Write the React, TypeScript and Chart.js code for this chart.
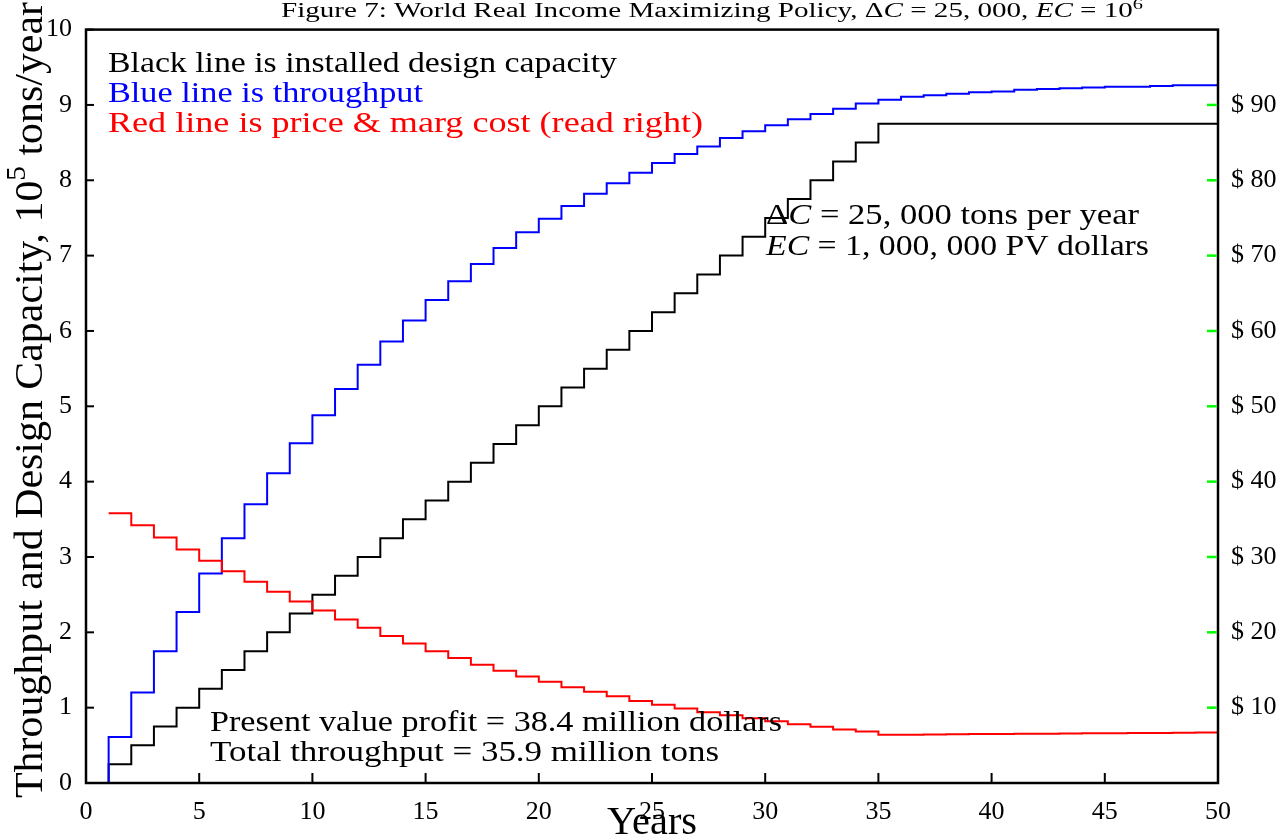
import React, { useEffect, useRef } from "react";
import { Chart, registerables } from "chart.js";

Chart.register(...registerables);

// ---------- data ----------
const years = [
  0, 1, 2, 3, 4, 5, 6, 7, 8, 9, 10, 11, 12, 13, 14, 15, 16, 17, 18, 19, 20,
  21, 22, 23, 24, 25, 26, 27, 28, 29, 30, 31, 32, 33, 34, 35, 36, 37, 38, 39, 40,
  41, 42, 43, 44, 45, 46, 47, 48, 49, 50,
];

// installed design capacity, 10^5 tons/year (left axis)
const capacity = [
  0, 0.25, 0.5, 0.75, 1.0, 1.25, 1.5, 1.75, 2.0, 2.25, 2.5, 2.75, 3.0, 3.25, 3.5,
  3.75, 4.0, 4.25, 4.5, 4.75, 5.0, 5.25, 5.5, 5.75, 6.0, 6.25, 6.5, 6.75, 7.0,
  7.25, 7.5, 7.75, 8.0, 8.25, 8.5, 8.75, 8.75, 8.75, 8.75, 8.75, 8.75, 8.75,
  8.75, 8.75, 8.75, 8.75, 8.75, 8.75, 8.75, 8.75, 8.75,
];

// throughput, 10^5 tons/year (left axis)
const throughput = [
  0, 0.61, 1.2, 1.75, 2.27, 2.78, 3.25, 3.7, 4.11, 4.51, 4.88, 5.23, 5.55, 5.86,
  6.14, 6.41, 6.66, 6.89, 7.1, 7.31, 7.49, 7.66, 7.82, 7.96, 8.1, 8.23, 8.35,
  8.45, 8.56, 8.65, 8.73, 8.81, 8.88, 8.95, 9.02, 9.07, 9.11, 9.13, 9.15, 9.17,
  9.18, 9.2, 9.21, 9.22, 9.23, 9.24, 9.24, 9.25, 9.26, 9.26, 9.27,
];

// price & marginal cost, dollars (right axis)
const price = [
  null, 35.8, 34.2, 32.6, 31.0, 29.5, 28.1, 26.7, 25.4, 24.1, 22.9, 21.7, 20.6,
  19.5, 18.5, 17.5, 16.6, 15.7, 14.9, 14.15, 13.45, 12.7, 12.1, 11.5, 10.9, 10.4,
  9.9, 9.4, 9.0, 8.6, 8.2, 7.8, 7.45, 7.1, 6.85, 6.4, 6.42, 6.45, 6.47, 6.49,
  6.51, 6.53, 6.55, 6.57, 6.59, 6.61, 6.63, 6.65, 6.67, 6.69, 6.7,
];

const rightTickValues = [10, 20, 30, 40, 50, 60, 70, 80, 90];

const FONT = "'Liberation Serif', 'DejaVu Serif', serif";

type Run = { t: string; s?: "i" | "sup" };

function runFont(r: Run, size: number) {
  if (r.s === "i") return `italic ${size}px ${FONT}`;
  if (r.s === "sup") return `${Math.round(size * 0.7)}px ${FONT}`;
  return `${size}px ${FONT}`;
}

function drawRich(
  ctx: CanvasRenderingContext2D,
  runs: Run[],
  x: number,
  y: number,
  size: number,
  color: string,
  width?: number,
  rotate?: boolean
) {
  ctx.save();
  let natural = 0;
  for (const r of runs) {
    ctx.font = runFont(r, size);
    natural += ctx.measureText(r.t).width;
  }
  ctx.translate(x, y);
  if (rotate) ctx.rotate(-Math.PI / 2);
  if (width) ctx.scale(width / natural, 1);
  ctx.fillStyle = color;
  ctx.textBaseline = "alphabetic";
  ctx.textAlign = "left";
  let cx = 0;
  for (const r of runs) {
    ctx.font = runFont(r, size);
    const dy = r.s === "sup" ? -size * 0.42 : 0;
    ctx.fillText(r.t, cx, dy);
    cx += ctx.measureText(r.t).width;
  }
  ctx.restore();
}

const decorPlugin = {
  id: "decor",
  afterDatasetsDraw(chart: any) {
    const ctx: CanvasRenderingContext2D = chart.ctx;
    const { left, right, top, bottom } = chart.chartArea;
    const xs = chart.scales.x;
    const ys = chart.scales.y;
    const y2 = chart.scales.y2;

    ctx.save();
    // frame
    ctx.strokeStyle = "#000";
    ctx.lineWidth = 2.5;
    ctx.strokeRect(left, top, right - left, bottom - top);

    // left ticks (inward)
    ctx.lineWidth = 2;
    ys.ticks.forEach((t: any) => {
      const py = ys.getPixelForValue(t.value);
      ctx.beginPath();
      ctx.moveTo(left, py);
      ctx.lineTo(left + 8, py);
      ctx.stroke();
    });
    // bottom ticks (inward)
    xs.ticks.forEach((t: any) => {
      const px = xs.getPixelForValue(t.value);
      ctx.beginPath();
      ctx.moveTo(px, bottom);
      ctx.lineTo(px, bottom - 10);
      ctx.stroke();
    });
    // right green ticks
    ctx.strokeStyle = "#00ff00";
    ctx.lineWidth = 2.5;
    y2.ticks.forEach((t: any) => {
      const py = y2.getPixelForValue(t.value);
      ctx.beginPath();
      ctx.moveTo(right - 11, py);
      ctx.lineTo(right - 1, py);
      ctx.stroke();
    });
    ctx.restore();

    // texts
    drawRich(
      ctx,
      [
        { t: "Figure 7: World Real Income Maximizing Policy, \u0394" },
        { t: "C", s: "i" },
        { t: " = 25, 000, " },
        { t: "EC", s: "i" },
        { t: " = 10" },
        { t: "6", s: "sup" },
      ],
      281, 17, 20, "#000", 862
    );
    drawRich(ctx, [{ t: "Black line is installed design capacity" }], 108, 72, 30, "#000", 509);
    drawRich(ctx, [{ t: "Blue line is throughput" }], 108, 102, 30, "#0000ff", 315);
    drawRich(ctx, [{ t: "Red line is price & marg cost (read right)" }], 108, 132, 30, "#ff0000", 595);
    drawRich(
      ctx,
      [{ t: "\u0394" }, { t: "C", s: "i" }, { t: " = 25, 000 tons per year" }],
      766, 224, 30, "#000", 373
    );
    drawRich(
      ctx,
      [{ t: "EC", s: "i" }, { t: " = 1, 000, 000 PV dollars" }],
      766, 255, 30, "#000", 383
    );
    drawRich(ctx, [{ t: "Present value profit = 38.4 million dollars" }], 210, 731, 30, "#000", 572);
    drawRich(ctx, [{ t: "Total throughput = 35.9 million tons" }], 210, 761, 30, "#000", 509);
    drawRich(
      ctx,
      [
        { t: "Throughput and Design Capacity, 10" },
        { t: "5", s: "sup" },
        { t: " tons/year" },
      ],
      42, 798, 40, "#000", 796, true
    );
    drawRich(ctx, [{ t: "Years" }], 607, 834, 39, "#000", 90);
  },
};

export default function App() {
  const ref = useRef<HTMLCanvasElement | null>(null);

  useEffect(() => {
    document.body.style.margin = "0";
    const canvas = ref.current;
    if (!canvas) return;

    const toPts = (vals: (number | null)[]) =>
      years.map((yr, i) => ({ x: yr, y: vals[i] }));

    const chart = new Chart(canvas, {
      type: "line",
      data: {
        datasets: [
          {
            label: "price",
            data: toPts(price) as any,
            yAxisID: "y2",
            borderColor: "#ff0000",
            borderWidth: 2,
            pointRadius: 0,
            stepped: true,
            fill: false,
          },
          {
            label: "throughput",
            data: toPts(throughput) as any,
            yAxisID: "y",
            borderColor: "#0000ff",
            borderWidth: 2,
            pointRadius: 0,
            stepped: true,
            fill: false,
          },
          {
            label: "capacity",
            data: toPts(capacity) as any,
            yAxisID: "y",
            borderColor: "#000000",
            borderWidth: 2,
            pointRadius: 0,
            stepped: true,
            fill: false,
          },
        ],
      },
      options: {
        animation: false,
        responsive: true,
        maintainAspectRatio: false,
        layout: { padding: { top: 27, left: 0, right: 0, bottom: 0 } },
        plugins: {
          legend: { display: false },
          tooltip: { enabled: false },
          title: { display: false },
        },
        scales: {
          x: {
            type: "linear",
            min: 0,
            max: 50,
            grid: { display: false, drawTicks: false },
            border: { display: false },
            ticks: {
              stepSize: 5,
              padding: 14,
              color: "#000",
              maxRotation: 0,
              font: { family: FONT, size: 26 },
            },
            afterFit: (s: any) => {
              s.height = 54;
            },
          },
          y: {
            type: "linear",
            position: "left",
            min: 0,
            max: 10,
            grid: { display: false, drawTicks: false },
            border: { display: false },
            ticks: {
              stepSize: 1,
              padding: 14,
              color: "#000",
              font: { family: FONT, size: 26 },
            },
            afterFit: (s: any) => {
              s.width = 86;
            },
          },
          y2: {
            type: "linear",
            position: "right",
            min: 0,
            max: 100,
            grid: { display: false, drawTicks: false },
            border: { display: false },
            afterBuildTicks: (s: any) => {
              s.ticks = rightTickValues.map((v) => ({ value: v }));
            },
            ticks: {
              padding: 13,
              color: "#000",
              font: { family: FONT, size: 26 },
              callback: (v: any) => `$ ${v}`,
            },
            afterFit: (s: any) => {
              s.width = 69;
            },
          },
        },
      },
      plugins: [decorPlugin],
    });

    return () => chart.destroy();
  }, []);

  return (
    <div style={{ width: 1287, height: 837, position: "relative" }}>
      <canvas ref={ref} style={{ display: "block" }} />
    </div>
  );
}
